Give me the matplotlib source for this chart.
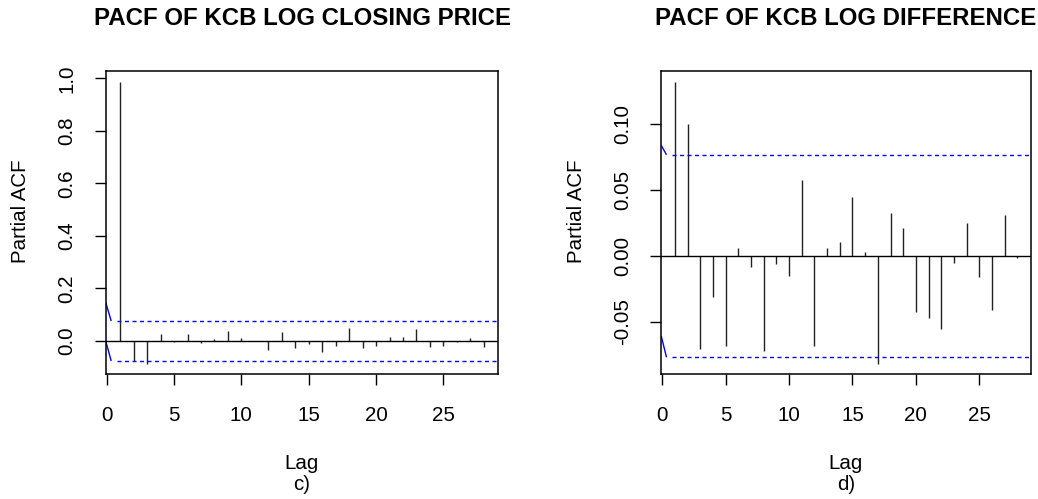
"""
PACF plots of the KCB log closing price and its log difference,
drawn in the style of R's plot.acf output.
"""

import numpy as np
import matplotlib
matplotlib.use("Agg")
import matplotlib.pyplot as plt

plt.rcParams["font.family"] = ["Liberation Sans", "DejaVu Sans"]
plt.rcParams["axes.unicode_minus"] = False

# --- data ---
lags = [1, 2, 3, 4, 5, 6, 7, 8, 9, 10, 11, 12, 13, 14,
        15, 16, 17, 18, 19, 20, 21, 22, 23, 24, 25, 26, 27, 28]

pacf_price = [0.985, -0.075, -0.087, 0.025, -0.005, 0.025, -0.006, 0.006,
              0.038, 0.010, 0.001, -0.035, 0.033, -0.025, -0.013, -0.040,
              -0.018, 0.048, -0.025, -0.018, 0.016, 0.016, 0.044, -0.024,
              -0.019, -0.005, 0.010, -0.024]

pacf_diff = [0.1325, 0.1001, -0.0710, -0.0309, -0.0682, 0.0058, -0.0081,
             -0.0720, -0.0061, -0.0150, 0.0575, -0.0682, 0.0058, 0.0106,
             0.0451, 0.0030, -0.0824, 0.0327, 0.0213, -0.0423, -0.0469,
             -0.0555, -0.0051, 0.0251, -0.0157, -0.0413, 0.0309, -0.0013]

ci_price = 0.076
ci_diff = 0.077
# where the blue bound lines start at the left edge (upper, lower)
ci_start_price = (0.147, 0.0)
ci_start_diff = (0.084, -0.061)

xticks = [0, 5, 10, 15, 20, 25]
yticks_price = [0.0, 0.2, 0.4, 0.6, 0.8, 1.0]
ylabels_price = ["0.0", "0.2", "0.4", "0.6", "0.8", "1.0"]
yticks_diff = [-0.05, 0.0, 0.05, 0.10]
ylabels_diff = ["-0.05", "0.00", "0.05", "0.10"]

W, H = 1038, 499
TICK_FS = 14.8
TITLE_FS = 17.3


def plot_pacf_panel(ax, values, ci, ci_start, ylim, yticks, ylabels):
    """Vertical PACF spikes, zero line and blue significance bounds."""
    x_left, x_right = -0.08, 29.08
    ax.vlines(lags, 0, values, color="#222222", linewidth=1.0)
    ax.axhline(0, color="black", linewidth=1.0)

    for sign, y0 in zip((1, -1), ci_start):
        ax.plot([x_left, 0.33], [y0, sign * ci], color="blue", linewidth=1.0,
                solid_capstyle="butt")
        ax.plot([0.74, x_right], [sign * ci, sign * ci], color="blue",
                linewidth=1.0, dashes=(2.9, 2.5))

    ax.set_xlim(x_left, x_right)
    ax.set_ylim(*ylim)
    ax.set_xticks(xticks)
    ax.set_xticklabels([str(t) for t in xticks], fontsize=TICK_FS)
    ax.set_yticks(yticks)
    ax.set_yticklabels(ylabels, fontsize=TICK_FS, rotation=90, va="center")
    ax.tick_params(axis="x", direction="out", length=7.9, width=1.0, pad=14.8)
    ax.tick_params(axis="y", direction="out", length=7.9, width=1.0, pad=13.2)
    for s in ax.spines.values():
        s.set_linewidth(1.1)


fig = plt.figure(figsize=(W / 100, H / 100), dpi=100)

ax1 = fig.add_axes([105.7 / W, 1 - 374 / H, 392.6 / W, 303.3 / H])
plot_pacf_panel(ax1, pacf_price, ci_price, ci_start_price,
                (-0.1256, 1.029), yticks_price, ylabels_price)

ax2 = fig.add_axes([661.3 / W, 1 - 374 / H, 369.7 / W, 303.3 / H])
plot_pacf_panel(ax2, pacf_diff, ci_diff, ci_start_diff,
                (-0.0897, 0.1409), yticks_diff, ylabels_diff)

# titles, axis labels and panel letters placed like the R output
panels = [(302.0, 30.3, "PACF OF KCB LOG CLOSING PRICE", "c)"),
          (846.0, 585.9, "PACF OF KCB LOG DIFFERENCE", "d)")]
for xc, ylab_x, title, letter in panels:
    fig.text(xc / W, 1 - 25 / H, title, ha="center", va="baseline",
             fontsize=TITLE_FS, fontweight="bold")
    fig.text(xc / W, 1 - 468.7 / H, "Lag", ha="center", va="baseline",
             fontsize=TICK_FS)
    fig.text(xc / W, 1 - 490 / H, letter, ha="center", va="baseline",
             fontsize=TICK_FS)
    fig.text(ylab_x / W, 1 - 211 / H, "Partial ACF", ha="right", va="center",
             rotation=90, fontsize=TICK_FS)

fig.savefig("out.png", dpi=100)
plt.close(fig)
